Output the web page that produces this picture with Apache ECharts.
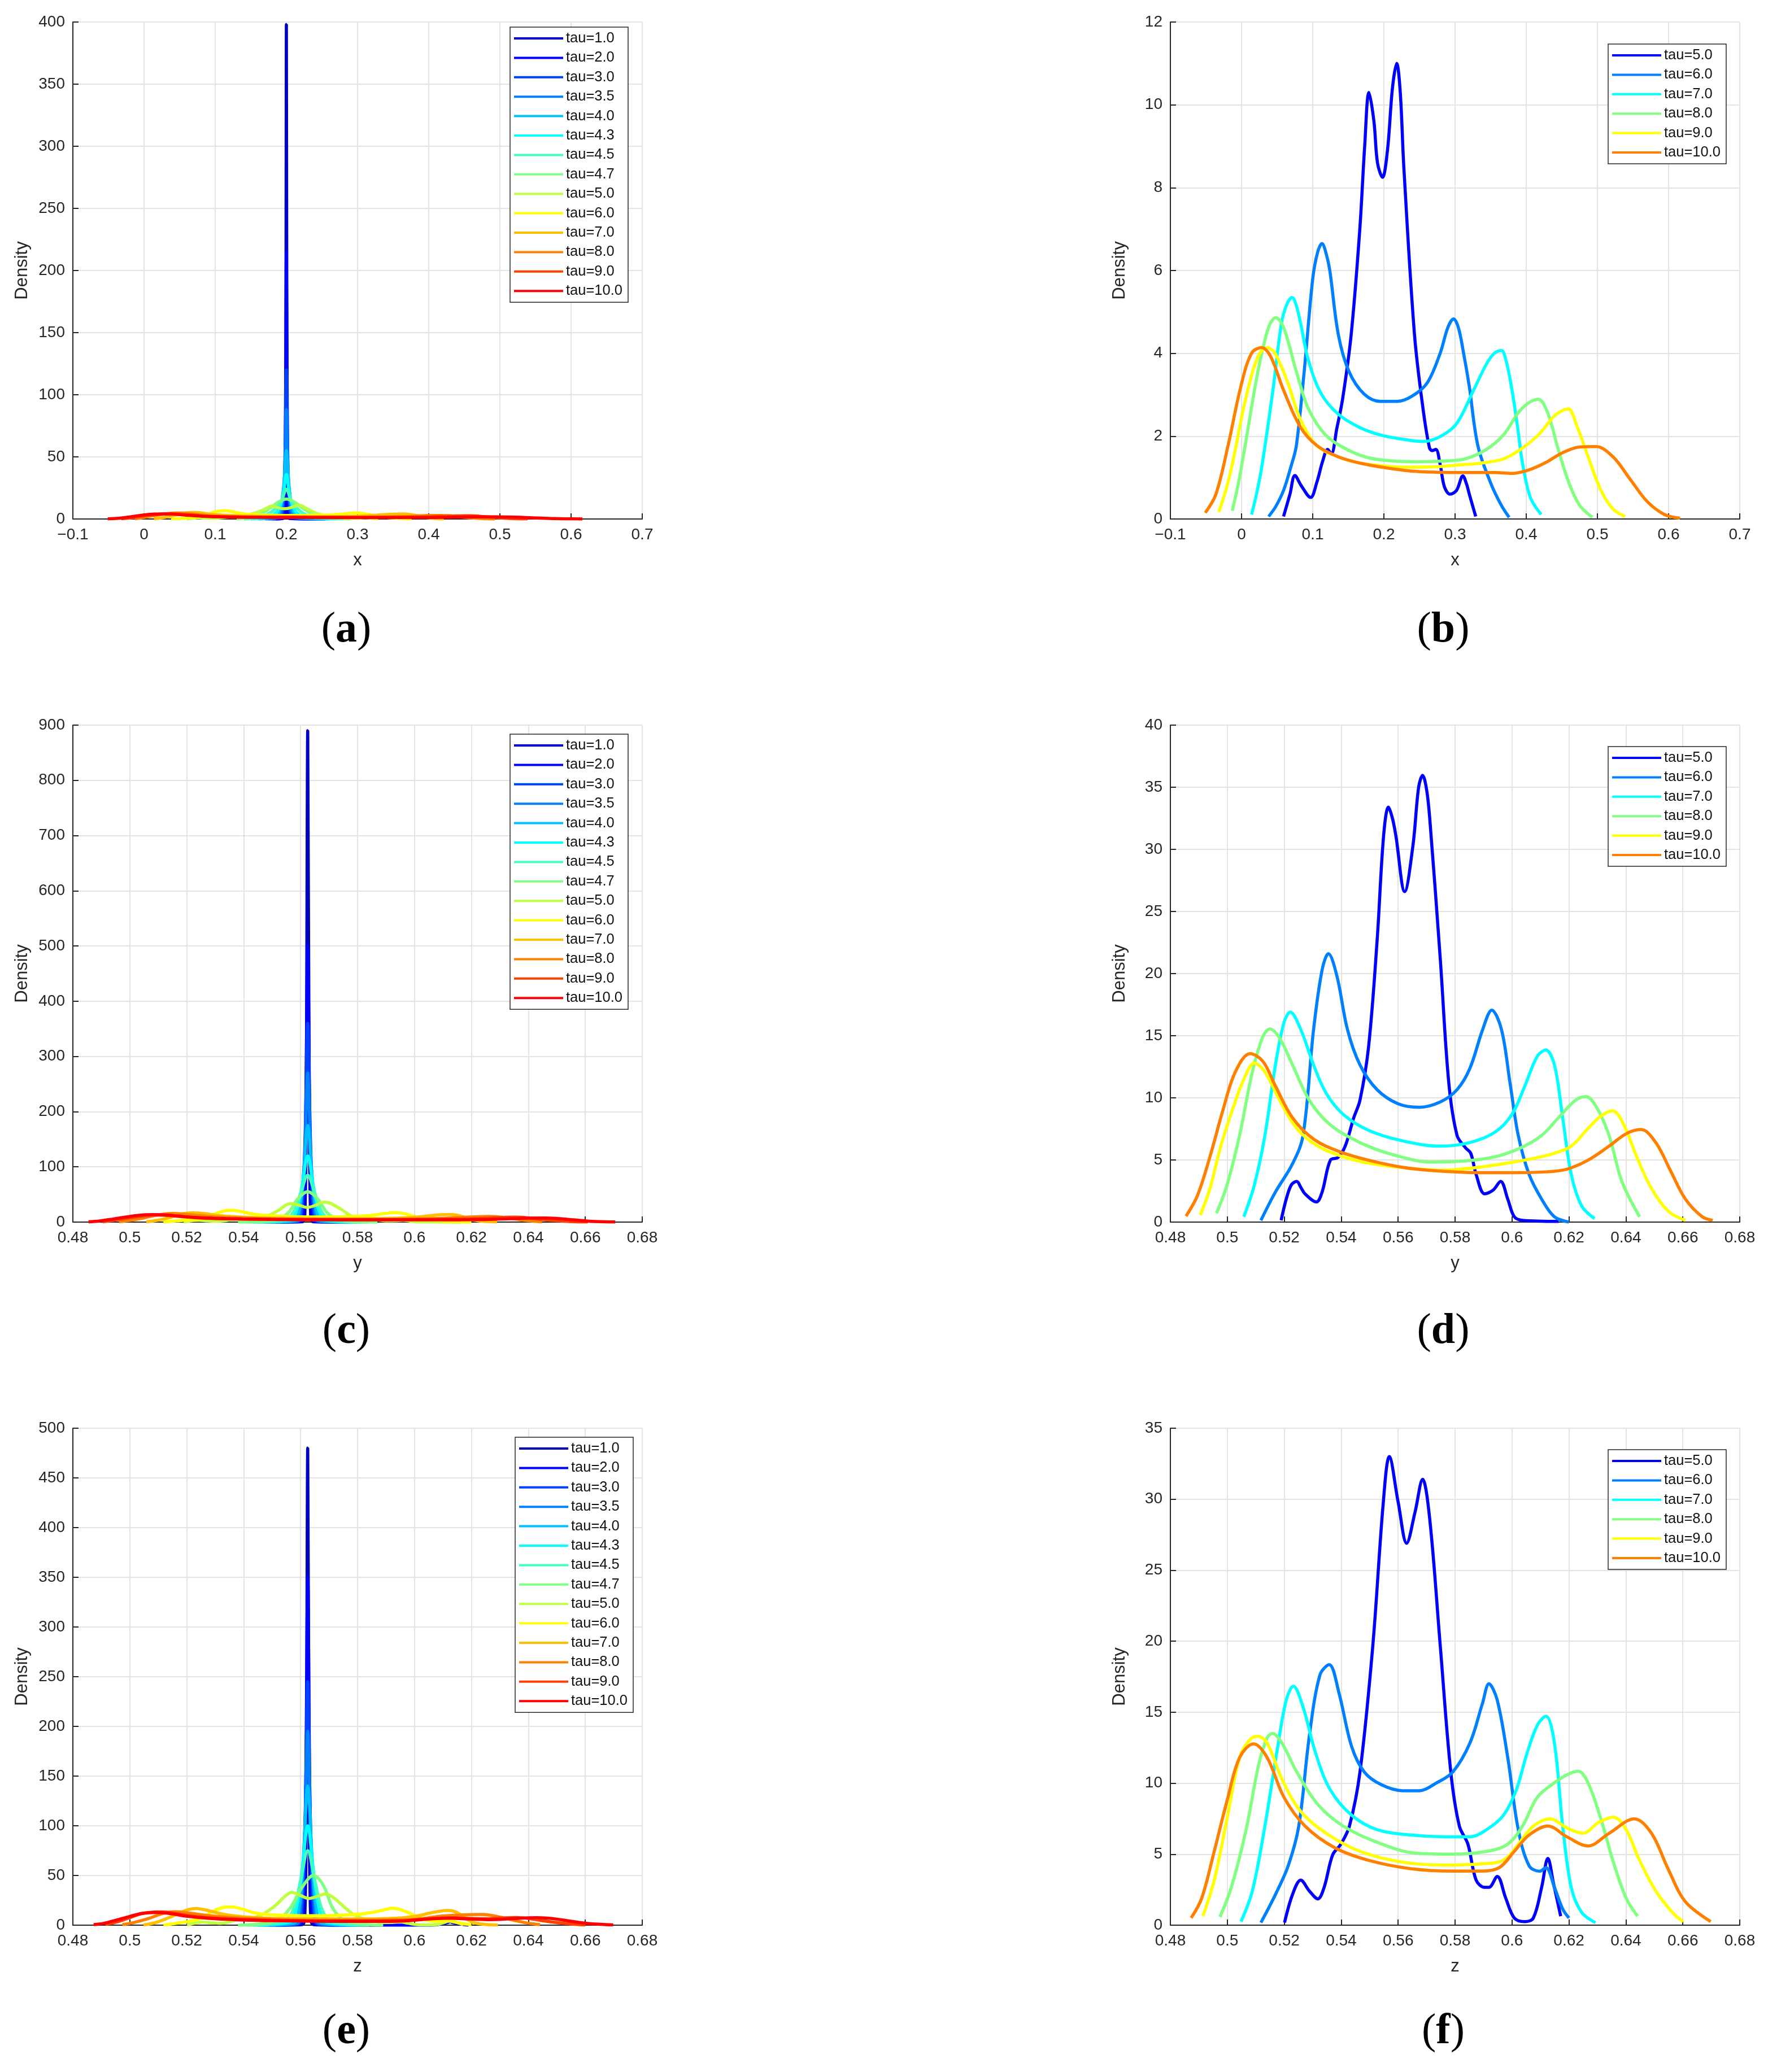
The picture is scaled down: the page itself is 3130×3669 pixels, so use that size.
<!DOCTYPE html>
<html>
<head>
<meta charset="utf-8">
<script src="https://cdn.jsdelivr.net/npm/echarts@6/dist/echarts.min.js"></script>
<style>
  html, body { margin: 0; padding: 0; background: #fff; }
  #chart { width: 3130px; height: 3669px; }
</style>
</head>
<body>
<div id="chart"></div>
<script>
// legend labels and jet colours (MATLAB jet(16) first 14, jet(8) first 6)
const tauAll = ['tau=1.0', 'tau=2.0', 'tau=3.0', 'tau=3.5', 'tau=4.0', 'tau=4.3', 'tau=4.5',
  'tau=4.7', 'tau=5.0', 'tau=6.0', 'tau=7.0', 'tau=8.0', 'tau=9.0', 'tau=10.0']
const tauHigh = ['tau=5.0', 'tau=6.0', 'tau=7.0', 'tau=8.0', 'tau=9.0', 'tau=10.0']
const jet14 = ['#0000bf', '#0000ff', '#0040ff', '#0080ff', '#00bfff', '#00ffff', '#40ffbf',
  '#80ff80', '#bfff40', '#ffff00', '#ffbf00', '#ff8000', '#ff4000', '#ff0000']
const jet6 = ['#0000ff', '#0080ff', '#00ffff', '#80ff80', '#ffff00', '#ff8000']

// ---- x : narrow spikes (tau 1.0 .. 4.7) ----
const xTau1 = [[0.185, 0], [0.196, 0.5], [0.198, 8], [0.1992, 120], [0.2, 398], [0.2008, 120], [0.202, 8], [0.204, 0.5], [0.255, 0]]
const xTau2 = [[0.18, 0], [0.194, 0.6], [0.197, 10], [0.1988, 90], [0.2, 215], [0.2012, 90], [0.203, 10], [0.206, 0.6], [0.25, 0]]
const xTau3 = [[0.175, 0], [0.19, 1], [0.195, 8], [0.198, 50], [0.2, 120], [0.202, 50], [0.205, 8], [0.21, 1], [0.24, 0]]
const xTau35 = [[0.17, 0], [0.186, 1.2], [0.193, 7], [0.1975, 35], [0.2, 88], [0.2025, 35], [0.207, 7], [0.214, 1.2], [0.245, 0]]
const xTau4 = [[0.16, 0], [0.18, 1.5], [0.19, 6], [0.196, 25], [0.2, 55], [0.204, 25], [0.21, 6], [0.22, 1.5], [0.26, 0]]
const xTau43 = [[0.15, 0], [0.175, 2], [0.187, 6], [0.195, 18], [0.2, 36], [0.205, 18], [0.213, 6], [0.225, 2], [0.27, 0]]
const xTau45 = [[0.14, 0], [0.168, 2.5], [0.182, 7], [0.193, 15], [0.2, 24], [0.207, 15], [0.218, 7], [0.232, 2.5], [0.28, 0]]
const xTau47 = [[0.13, 0], [0.16, 3], [0.175, 8], [0.19, 14], [0.2, 16], [0.21, 14], [0.225, 8], [0.24, 3], [0.29, 0]]
// ---- x : tau 5.0 .. 10.0 ----
const xTau5 = [[0.059, 0.06], [0.068, 0.6], [0.075, 1.05], [0.084, 0.8], [0.097, 0.52], [0.106, 0.9], [0.114, 1.4], [0.121, 1.68], [0.126, 1.57], [0.134, 2.2], [0.142, 2.9], [0.154, 4.45], [0.166, 6.96], [0.173, 9.0], [0.179, 10.3], [0.186, 9.6], [0.191, 8.6], [0.198, 8.25], [0.205, 8.9], [0.212, 10.4], [0.218, 11.0], [0.223, 10.3], [0.228, 8.5], [0.243, 4.45], [0.255, 2.66], [0.264, 1.72], [0.268, 1.65], [0.273, 1.68], [0.279, 1.32], [0.285, 0.78], [0.293, 0.6], [0.302, 0.69], [0.311, 1.04], [0.316, 0.85], [0.32, 0.6], [0.329, 0.06]]
const xTau6 = [[0.038, 0.06], [0.048, 0.3], [0.059, 0.69], [0.07, 1.3], [0.077, 1.77], [0.088, 3.56], [0.1, 5.8], [0.107, 6.45], [0.113, 6.65], [0.119, 6.4], [0.124, 6.0], [0.136, 4.45], [0.151, 3.56], [0.172, 3.02], [0.195, 2.84], [0.219, 2.84], [0.24, 2.97], [0.261, 3.29], [0.279, 4.0], [0.29, 4.63], [0.298, 4.83], [0.305, 4.6], [0.312, 4.0], [0.32, 3.2], [0.332, 1.77], [0.35, 0.87], [0.365, 0.33], [0.376, 0.04]]
const xTau7 = [[0.014, 0.11], [0.021, 0.6], [0.029, 1.32], [0.044, 3.1], [0.056, 4.72], [0.064, 5.2], [0.071, 5.35], [0.077, 5.15], [0.083, 4.72], [0.094, 3.83], [0.112, 3.02], [0.136, 2.53], [0.166, 2.21], [0.195, 2.03], [0.225, 1.93], [0.255, 1.87], [0.279, 1.99], [0.302, 2.3], [0.326, 3.11], [0.344, 3.74], [0.355, 4.0], [0.365, 4.07], [0.372, 3.8], [0.38, 3.11], [0.388, 2.2], [0.395, 1.32], [0.406, 0.51], [0.421, 0.11]]
const xTau8 = [[-0.013, 0.2], [-0.004, 0.9], [0.005, 1.77], [0.023, 3.56], [0.038, 4.63], [0.048, 4.86], [0.059, 4.63], [0.077, 3.56], [0.094, 2.66], [0.118, 2.03], [0.148, 1.68], [0.178, 1.48], [0.213, 1.4], [0.249, 1.38], [0.285, 1.4], [0.314, 1.45], [0.344, 1.68], [0.368, 2.03], [0.389, 2.57], [0.403, 2.8], [0.417, 2.89], [0.43, 2.57], [0.445, 1.68], [0.46, 0.87], [0.475, 0.33], [0.493, 0.04]]
const xTau9 = [[-0.032, 0.17], [-0.022, 0.7], [-0.013, 1.32], [0.005, 2.84], [0.023, 3.92], [0.036, 4.14], [0.047, 4.0], [0.065, 3.29], [0.083, 2.39], [0.106, 1.77], [0.136, 1.5], [0.166, 1.35], [0.201, 1.28], [0.237, 1.25], [0.272, 1.26], [0.302, 1.3], [0.332, 1.34], [0.368, 1.45], [0.392, 1.68], [0.417, 2.03], [0.439, 2.48], [0.451, 2.62], [0.459, 2.66], [0.472, 2.21], [0.487, 1.5], [0.505, 0.69], [0.522, 0.24], [0.539, 0.06]]
const xTau10 = [[-0.051, 0.15], [-0.036, 0.6], [-0.019, 1.77], [-0.001, 3.2], [0.014, 4.0], [0.028, 4.14], [0.041, 3.92], [0.059, 3.11], [0.083, 2.21], [0.106, 1.77], [0.136, 1.5], [0.166, 1.35], [0.201, 1.24], [0.237, 1.16], [0.273, 1.13], [0.314, 1.12], [0.356, 1.12], [0.38, 1.1], [0.403, 1.18], [0.427, 1.36], [0.451, 1.6], [0.475, 1.74], [0.498, 1.75], [0.522, 1.5], [0.546, 0.96], [0.57, 0.42], [0.594, 0.11], [0.616, 0.02]]

// ---- y : narrow spikes ----
const yTau1 = [[0.553, 0], [0.5605, 0.5], [0.5615, 15], [0.562, 250], [0.5625, 890], [0.563, 250], [0.5635, 15], [0.5645, 0.5], [0.572, 0]]
const yTau2 = [[0.551, 0], [0.5598, 0.8], [0.561, 20], [0.5618, 200], [0.5625, 500], [0.5632, 200], [0.564, 20], [0.5652, 0.8], [0.574, 0]]
const yTau3 = [[0.549, 0], [0.559, 1], [0.5605, 25], [0.5616, 160], [0.5625, 360], [0.5634, 160], [0.5645, 25], [0.566, 1], [0.576, 0]]
const yTau35 = [[0.547, 0], [0.5585, 1.5], [0.56, 25], [0.5614, 120], [0.5625, 270], [0.5636, 120], [0.565, 25], [0.5665, 1.5], [0.578, 0]]
const yTau4 = [[0.545, 0], [0.5575, 2], [0.5595, 22], [0.561, 85], [0.5625, 175], [0.564, 85], [0.5655, 22], [0.5675, 2], [0.58, 0]]
const yTau43 = [[0.543, 0], [0.556, 3], [0.5585, 20], [0.5605, 65], [0.5625, 120], [0.5645, 65], [0.5665, 20], [0.569, 3], [0.582, 0]]
const yTau45 = [[0.541, 0], [0.554, 3.5], [0.5575, 18], [0.56, 52], [0.5625, 85], [0.565, 52], [0.5675, 18], [0.571, 3.5], [0.584, 0]]
const yTau47 = [[0.538, 0], [0.551, 4], [0.5555, 16], [0.559, 42], [0.5625, 55], [0.566, 42], [0.5695, 16], [0.574, 4], [0.587, 0]]
// ---- y : tau 5.0 .. 10.0 ----
const yTau5 = [[0.5189, 0.14], [0.5207, 1.85], [0.5225, 3.0], [0.5244, 3.27], [0.5258, 2.8], [0.5273, 2.27], [0.5313, 1.62], [0.5333, 2.42], [0.5362, 4.98], [0.5389, 5.2], [0.5414, 6.11], [0.5444, 8.39], [0.5466, 9.81], [0.5496, 14.07], [0.5526, 22.6], [0.5549, 31.1], [0.5566, 33.4], [0.558, 32.5], [0.5592, 31.1], [0.5623, 26.6], [0.5652, 30.3], [0.5672, 35.0], [0.5686, 35.96], [0.57, 34.8], [0.5711, 32.5], [0.5748, 21.2], [0.5778, 11.2], [0.5807, 6.97], [0.5837, 5.97], [0.5855, 5.54], [0.5874, 3.84], [0.5904, 2.27], [0.5933, 2.56], [0.596, 3.27], [0.5985, 1.85], [0.6008, 0.43], [0.6037, 0.14], [0.6164, 0.06]]
const yTau6 = [[0.5118, 0.14], [0.5169, 2.42], [0.5229, 4.69], [0.5266, 6.97], [0.5303, 15.5], [0.5333, 20.3], [0.5355, 21.6], [0.5385, 19.8], [0.5422, 15.5], [0.5466, 12.65], [0.5526, 10.66], [0.56, 9.52], [0.5674, 9.24], [0.5748, 9.67], [0.5807, 10.66], [0.5852, 12.37], [0.5897, 15.5], [0.5929, 17.06], [0.5963, 15.5], [0.5993, 11.2], [0.6022, 6.97], [0.606, 3.84], [0.6104, 1.85], [0.6149, 0.43], [0.62, 0.0]]
const yTau7 = [[0.5058, 0.43], [0.5095, 2.99], [0.5132, 6.97], [0.5169, 12.65], [0.5199, 16.06], [0.5221, 16.9], [0.5258, 15.5], [0.5303, 12.65], [0.5347, 10.38], [0.5407, 8.67], [0.5496, 7.39], [0.5615, 6.54], [0.5748, 6.11], [0.5852, 6.4], [0.5941, 7.25], [0.6, 8.67], [0.6045, 10.95], [0.6089, 13.36], [0.6119, 13.85], [0.6149, 12.65], [0.6178, 8.39], [0.6208, 3.84], [0.6245, 1.28], [0.629, 0.28]]
const yTau8 = [[0.4962, 0.71], [0.4999, 2.99], [0.5043, 6.97], [0.5088, 12.08], [0.5125, 14.93], [0.515, 15.55], [0.5184, 14.79], [0.5229, 12.65], [0.5288, 9.81], [0.5362, 7.82], [0.5466, 6.4], [0.5585, 5.4], [0.5718, 4.83], [0.5837, 4.92], [0.5941, 5.26], [0.603, 5.97], [0.6104, 6.97], [0.6163, 8.39], [0.6223, 9.81], [0.626, 10.1], [0.6297, 9.24], [0.6341, 6.97], [0.6386, 3.27], [0.6448, 0.43]]
const yTau9 = [[0.4905, 0.57], [0.4939, 2.7], [0.4977, 6.11], [0.5021, 9.24], [0.5058, 11.5], [0.5095, 12.8], [0.5132, 12.08], [0.5184, 9.81], [0.5244, 7.53], [0.5318, 6.11], [0.5407, 5.26], [0.5511, 4.69], [0.5644, 4.32], [0.5763, 4.18], [0.5882, 4.41], [0.5985, 4.75], [0.6074, 5.12], [0.6149, 5.54], [0.6208, 6.11], [0.6267, 7.53], [0.6312, 8.53], [0.6353, 8.96], [0.6393, 7.82], [0.6438, 5.26], [0.649, 2.7], [0.655, 0.85], [0.6609, 0.14]]
const yTau10 = [[0.4855, 0.48], [0.4895, 2.13], [0.4939, 5.26], [0.4984, 8.96], [0.5028, 12.08], [0.508, 13.56], [0.5125, 12.94], [0.5169, 10.95], [0.5229, 8.39], [0.5303, 6.68], [0.5392, 5.69], [0.5496, 4.98], [0.5615, 4.41], [0.5733, 4.12], [0.5882, 3.98], [0.6, 3.98], [0.6119, 4.04], [0.6193, 4.26], [0.6267, 4.98], [0.6341, 6.11], [0.6401, 7.11], [0.6453, 7.45], [0.6505, 6.4], [0.6557, 4.12], [0.6609, 1.85], [0.6668, 0.43], [0.6705, 0.14]]

// ---- z : narrow spikes ----
const zTau1 = [[0.553, 0], [0.5605, 0.5], [0.5615, 10], [0.562, 140], [0.5625, 480], [0.563, 140], [0.5635, 10], [0.5645, 0.5], [0.572, 0]]
const zTau2 = [[0.551, 0], [0.5598, 0.8], [0.561, 15], [0.5618, 140], [0.5625, 350], [0.5632, 140], [0.564, 15], [0.5652, 0.8], [0.574, 0], [0.606, 0], [0.6115, 2.5], [0.6125, 3.5], [0.6135, 2.5], [0.619, 0]]
const zTau3 = [[0.549, 0], [0.559, 1], [0.5605, 18], [0.5616, 110], [0.5625, 245], [0.5634, 110], [0.5645, 18], [0.566, 1], [0.576, 0]]
const zTau35 = [[0.547, 0], [0.5585, 1.5], [0.56, 18], [0.5614, 90], [0.5625, 195], [0.5636, 90], [0.565, 18], [0.5665, 1.5], [0.578, 0]]
const zTau4 = [[0.545, 0], [0.5575, 2], [0.5595, 18], [0.561, 70], [0.5625, 140], [0.564, 70], [0.5655, 18], [0.5675, 2], [0.58, 0]]
const zTau43 = [[0.543, 0], [0.556, 3], [0.5585, 17], [0.5605, 55], [0.5625, 100], [0.5645, 55], [0.5665, 17], [0.569, 3], [0.582, 0]]
const zTau45 = [[0.541, 0], [0.554, 3.5], [0.5575, 16], [0.56, 45], [0.5625, 75], [0.565, 45], [0.5675, 16], [0.571, 3.5], [0.584, 0]]
const zTau47 = [[0.538, 0], [0.551, 4], [0.556, 16], [0.5605, 38], [0.5645, 50], [0.568, 40], [0.5715, 16], [0.576, 4], [0.589, 0]]
// ---- z : tau 5.0 .. 10.0 ----
const zTau5 = [[0.5201, 0.18], [0.5229, 2.16], [0.5258, 3.17], [0.5288, 2.41], [0.5318, 1.85], [0.534, 2.66], [0.537, 4.95], [0.5399, 5.71], [0.5429, 6.98], [0.5466, 10.79], [0.5511, 19.67], [0.5548, 29.8], [0.5569, 33.0], [0.56, 29.8], [0.563, 26.9], [0.5659, 29.06], [0.5686, 31.4], [0.5711, 28.6], [0.5748, 19.67], [0.5785, 10.79], [0.5815, 6.98], [0.5845, 5.71], [0.5874, 3.17], [0.5904, 2.66], [0.5919, 2.66], [0.5948, 3.43], [0.5978, 1.9], [0.6008, 0.51], [0.6045, 0.25], [0.6075, 0.51], [0.6104, 2.66], [0.6126, 4.7], [0.6146, 2.92], [0.6171, 0.63]]
const zTau6 = [[0.5118, 0.18], [0.5169, 2.16], [0.5214, 4.19], [0.5251, 6.98], [0.5288, 13.3], [0.5325, 17.6], [0.5358, 18.35], [0.5392, 16.37], [0.5437, 12.56], [0.5481, 10.79], [0.554, 9.9], [0.5615, 9.47], [0.5674, 9.47], [0.5733, 10.0], [0.5792, 10.79], [0.5852, 12.82], [0.5896, 15.6], [0.5919, 17.0], [0.5948, 15.86], [0.5985, 11.8], [0.6022, 6.73], [0.606, 4.19], [0.6097, 3.8], [0.6119, 4.06], [0.6149, 2.66], [0.6178, 1.14], [0.62, 0.51]]
const zTau7 = [[0.5048, 0.25], [0.5088, 2.41], [0.5132, 6.98], [0.5177, 12.56], [0.5207, 15.86], [0.5232, 16.83], [0.5266, 15.36], [0.5311, 12.06], [0.5362, 9.52], [0.5437, 7.74], [0.5526, 6.73], [0.5644, 6.35], [0.5763, 6.22], [0.5852, 6.22], [0.5911, 6.73], [0.597, 7.74], [0.6015, 9.52], [0.6052, 12.06], [0.6089, 14.09], [0.6119, 14.72], [0.6149, 12.82], [0.6178, 6.98], [0.6208, 2.66], [0.6245, 0.89], [0.6293, 0.18]]
const zTau8 = [[0.4974, 0.58], [0.5014, 2.66], [0.5066, 6.73], [0.511, 11.29], [0.514, 13.2], [0.5159, 13.5], [0.5192, 12.82], [0.5244, 10.79], [0.5318, 8.5], [0.5407, 6.98], [0.5526, 5.84], [0.5659, 5.08], [0.5792, 5.0], [0.5911, 5.2], [0.5985, 5.71], [0.6037, 6.98], [0.6089, 9.01], [0.6149, 10.03], [0.62, 10.66], [0.6233, 10.84], [0.6267, 10.03], [0.6312, 7.49], [0.6356, 4.44], [0.6401, 1.9], [0.6441, 0.63]]
const zTau9 = [[0.4914, 0.63], [0.4954, 3.17], [0.4999, 7.49], [0.5043, 11.8], [0.508, 13.07], [0.5107, 13.3], [0.514, 12.82], [0.5192, 10.28], [0.5258, 8.0], [0.5347, 6.47], [0.5466, 5.2], [0.5615, 4.44], [0.5763, 4.24], [0.5882, 4.31], [0.597, 4.57], [0.6022, 5.71], [0.6075, 6.98], [0.6134, 7.49], [0.6193, 6.85], [0.6249, 6.47], [0.6304, 7.23], [0.6356, 7.61], [0.6401, 6.73], [0.6445, 4.7], [0.6505, 2.41], [0.6564, 0.89], [0.6601, 0.25]]
const zTau10 = [[0.4873, 0.51], [0.491, 1.9], [0.4954, 5.2], [0.4999, 8.76], [0.5043, 11.8], [0.5092, 12.77], [0.514, 11.8], [0.5199, 9.01], [0.5273, 6.98], [0.5377, 5.46], [0.5496, 4.57], [0.5644, 3.98], [0.5792, 3.81], [0.5896, 3.81], [0.5956, 4.06], [0.6008, 5.2], [0.606, 6.35], [0.6126, 6.98], [0.6193, 6.22], [0.6267, 5.58], [0.6341, 6.47], [0.643, 7.49], [0.649, 6.47], [0.6549, 3.93], [0.6609, 1.65], [0.6698, 0.25]]

const FONT = '"Liberation Sans", Arial, sans-serif'
const INK = '#262626'

// one entry per panel, (a) .. (f)
const panels = [
  { id: 'a', grid: { left: 129, top: 39, width: 1008, height: 880 }, xr: [-0.1, 0.7, 0.1], yr: [400, 50], xName: 'x',
    names: tauAll, colors: jet14, legend: [903, 48], cap: [613, 1116],
    curves: [xTau1, xTau2, xTau3, xTau35, xTau4, xTau43, xTau45, xTau47, xTau5, xTau6, xTau7, xTau8, xTau9, xTau10] },
  { id: 'b', grid: { left: 2072, top: 39, width: 1008, height: 880 }, xr: [-0.1, 0.7, 0.1], yr: [12, 2], xName: 'x',
    names: tauHigh, colors: jet6, legend: [2847, 78], cap: [2555, 1116],
    curves: [xTau5, xTau6, xTau7, xTau8, xTau9, xTau10] },
  { id: 'c', grid: { left: 129, top: 1284, width: 1008, height: 880 }, xr: [0.48, 0.68, 0.02], yr: [900, 100], xName: 'y',
    names: tauAll, colors: jet14, legend: [903, 1300], cap: [613, 2358],
    curves: [yTau1, yTau2, yTau3, yTau35, yTau4, yTau43, yTau45, yTau47, yTau5, yTau6, yTau7, yTau8, yTau9, yTau10] },
  { id: 'd', grid: { left: 2072, top: 1284, width: 1008, height: 880 }, xr: [0.48, 0.68, 0.02], yr: [40, 5], xName: 'y',
    names: tauHigh, colors: jet6, legend: [2847, 1322], cap: [2555, 2358],
    curves: [yTau5, yTau6, yTau7, yTau8, yTau9, yTau10] },
  { id: 'e', grid: { left: 129, top: 2529, width: 1008, height: 880 }, xr: [0.48, 0.68, 0.02], yr: [500, 50], xName: 'z',
    names: tauAll, colors: jet14, legend: [912, 2545], cap: [613, 3598],
    curves: [zTau1, zTau2, zTau3, zTau35, zTau4, zTau43, zTau45, zTau47, zTau5, zTau6, zTau7, zTau8, zTau9, zTau10] },
  { id: 'f', grid: { left: 2072, top: 2529, width: 1008, height: 880 }, xr: [0.48, 0.68, 0.02], yr: [35, 5], xName: 'z',
    names: tauHigh, colors: jet6, legend: [2847, 2567], cap: [2555, 3598],
    curves: [zTau5, zTau6, zTau7, zTau8, zTau9, zTau10] }
]

function tickText (v) {
  return String(Math.round(v * 1000) / 1000).replace('-', '\u2212')
}

const grids = []
const xAxes = []
const yAxes = []
const legends = []
const series = []
const graphics = []

panels.forEach(function (p, i) {
  grids.push(Object.assign({ outerBoundsMode: 'none', containLabel: false }, p.grid))
  const common = {
    gridIndex: i,
    type: 'value',
    axisLine: { show: true, onZero: false, lineStyle: { color: INK, width: 2 } },
    axisTick: { show: true, inside: true, length: 10, lineStyle: { color: INK, width: 2 } },
    splitLine: { show: true, lineStyle: { color: '#e3e3e3', width: 2 } },
    nameLocation: 'middle',
    nameTextStyle: { color: INK, fontSize: 31, fontFamily: FONT }
  }
  xAxes.push(Object.assign({}, common, {
    min: p.xr[0], max: p.xr[1], interval: p.xr[2],
    name: p.xName, nameGap: 58,
    axisLabel: { color: INK, fontSize: 28, fontFamily: FONT, margin: 14, formatter: tickText }
  }))
  yAxes.push(Object.assign({}, common, {
    min: 0, max: p.yr[0], interval: p.yr[1],
    name: 'Density', nameGap: 74,
    axisLabel: { color: INK, fontSize: 28, fontFamily: FONT, margin: 14 }
  }))
  const legendNames = []
  p.curves.forEach(function (data, k) {
    const name = p.id + ' ' + p.names[k]
    legendNames.push(name)
    series.push({
      type: 'line',
      name: name,
      xAxisIndex: i,
      yAxisIndex: i,
      data: data,
      smooth: 0.35,
      symbol: 'none',
      showSymbol: false,
      color: p.colors[k],
      lineStyle: { color: p.colors[k], width: 5.5 },
      itemStyle: { color: p.colors[k] },
      emphasis: { disabled: true },
      silent: true
    })
  })
  legends.push({
    left: p.legend[0],
    top: p.legend[1],
    orient: 'vertical',
    selectedMode: false,
    data: legendNames,
    formatter: function (n) { return n.slice(2) },
    icon: 'rect',
    itemWidth: 87,
    itemHeight: 4,
    itemGap: 6.4,
    padding: [6, 10, 6, 7],
    borderColor: INK,
    borderWidth: 1.5,
    backgroundColor: '#fff',
    itemStyle: { borderWidth: 0 },
    textStyle: { color: '#111', fontSize: 25.5, lineHeight: 28, fontFamily: FONT }
  })
  graphics.push({
    type: 'text',
    x: p.cap[0],
    y: p.cap[1],
    style: {
      text: '{p|(}{b|' + p.id + '}{p|)}',
      align: 'center',
      verticalAlign: 'middle',
      fill: '#000',
      rich: {
        p: { fontSize: 76, fontFamily: '"Liberation Serif", "DejaVu Serif", serif', fill: '#000' },
        b: { fontSize: 76, fontWeight: 'bold', fontFamily: '"Liberation Serif", "DejaVu Serif", serif', fill: '#000' }
      }
    }
  })
})

const chart = echarts.init(document.getElementById('chart'), null, { renderer: 'canvas', width: 3130, height: 3669 })
chart.setOption({
  backgroundColor: '#fff',
  animation: false,
  grid: grids,
  xAxis: xAxes,
  yAxis: yAxes,
  legend: legends,
  series: series,
  graphic: graphics
})
</script>
</body>
</html>
